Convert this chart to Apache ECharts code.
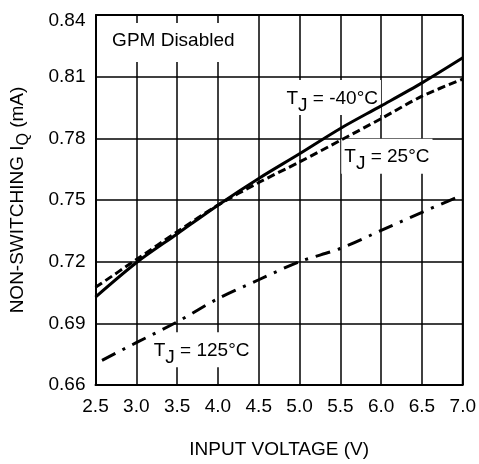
<!DOCTYPE html>
<html>
<head>
<meta charset="utf-8">
<script src="https://cdn.jsdelivr.net/npm/echarts@6/dist/echarts.min.js"></script>
<style>html,body{margin:0;padding:0;background:#fff}#c{width:479px;height:464px}</style>
</head>
<body>
<div id="c"></div>
<script>
const xTicks = [2.5, 3.0, 3.5, 4.0, 4.5, 5.0, 5.5, 6.0, 6.5, 7.0];
const yTicks = [0.66, 0.69, 0.72, 0.75, 0.78, 0.81, 0.84];
const vin = [2.5, 3.0, 3.5, 4.0, 4.5, 5.0, 5.5, 6.0, 6.5, 7.0];
const tjMinus40 = [0.7028, 0.7195, 0.7335, 0.7475, 0.7605, 0.7725, 0.7848, 0.7958, 0.8070, 0.8192];
const tj25 = [0.7075, 0.7210, 0.7345, 0.7475, 0.7585, 0.7685, 0.7790, 0.7896, 0.8005, 0.8088];
const vin125 = [2.58, 3.0, 3.5, 4.0, 4.5, 5.0, 5.5, 6.0, 6.5, 7.0];
const tj125 = [0.6720, 0.6806, 0.6907, 0.7020, 0.7112, 0.7200, 0.7264, 0.7352, 0.7440, 0.7525];
const labels = [
  {name: 'GPM Disabled', x: 3.454, y: 0.8266, rich: false},
  {name: '-40°C', x: 5.40, y: 0.7999, rich: true},
  {name: '25°C', x: 6.07, y: 0.7713, rich: true},
  {name: '125°C', x: 3.80, y: 0.6772, rich: true}
];

const font = 'Liberation Sans, Arial, sans-serif';
const FS = 19;
const chart = echarts.init(document.getElementById('c'));
const pair = (xs, ys) => xs.map((x, i) => [x, ys[i]]);

chart.setOption({
  animation: false,
  backgroundColor: '#fff',
  grid: {left: 90, top: 15, right: 14, bottom: 74, show: false},
  xAxis: {
    type: 'value', min: 2.5, max: 7.0, interval: 0.5,
    name: 'INPUT VOLTAGE (V)', nameLocation: 'middle', nameGap: 55,
    nameTextStyle: {fontFamily: font, fontSize: FS, color: '#000'},
    axisLine: {show: true, onZero: false, lineStyle: {color: '#000', width: 2}},
    axisTick: {show: false},
    axisLabel: {fontFamily: font, fontSize: FS, color: '#000', margin: 12,
      formatter: v => v.toFixed(1)},
    splitLine: {show: true, lineStyle: {color: '#000', width: 1.5}}
  },
  yAxis: {
    type: 'value', min: 0.66, max: 0.84, interval: 0.03,
    name: 'NON-SWITCHING I{sub|Q} (mA)', nameLocation: 'middle', nameGap: 64, nameRotate: 90,
    nameTextStyle: {fontFamily: font, fontSize: FS, color: '#000',
      rich: {sub: {fontFamily: font, fontSize: 16, color: '#000', padding: [12, 0, 0, 0]}}},
    axisLine: {show: true, lineStyle: {color: '#000', width: 2}},
    axisTick: {show: false},
    axisLabel: {fontFamily: font, fontSize: FS, color: '#000', margin: 10,
      formatter: v => (Math.abs(v - 0.84) < 1e-9 ? '{top|' + v.toFixed(2) + '}' : v.toFixed(2)),
      rich: {top: {fontFamily: font, fontSize: FS, color: '#000', padding: [12, 0, 0, 0]}}},
    splitLine: {show: true, lineStyle: {color: '#000', width: 1.5}}
  },
  series: [
    {type: 'line', name: '-40', data: pair(vin, tjMinus40), symbol: 'none', smooth: 0.3,
      lineStyle: {color: '#000', width: 3}, z: 6},
    {type: 'line', name: '25', data: pair(vin, tj25), symbol: 'none', smooth: 0.3,
      lineStyle: {color: '#000', width: 3, type: [8, 4]}, z: 5},
    {type: 'line', name: '125', data: pair(vin125, tj125), symbol: 'none', smooth: 0.3,
      lineStyle: {color: '#000', width: 3, type: [15, 8, 3, 8]}, z: 5},
    {type: 'line', data: [[7.0, 0.84], [7.0, 0.66]], symbol: 'none', silent: true,
      lineStyle: {color: '#000', width: 2}, z: 7},
    {type: 'line', data: [[2.5, 0.84], [7.0, 0.84]], symbol: 'none', silent: true,
      lineStyle: {color: '#000', width: 2}, z: 7}
  ]
});

const g = labels.map(l => {
  const p = chart.convertToPixel({gridIndex: 0}, [l.x, l.y]);
  return {
    type: 'text', x: p[0], y: p[1], z: 1,
    style: {
      text: l.rich ? 'T{sub|J} = ' + l.name : l.name,
      fontFamily: font, fontSize: FS, fill: '#000',
      align: 'center', verticalAlign: 'middle',
      backgroundColor: '#fff', padding: l.rich ? [2, 3, 0, 3] : [8, 5, 12, 5],
      rich: {sub: {fontFamily: font, fontSize: FS, fill: '#000', padding: [14, 0, 0, 0]}}
    }
  };
});
chart.setOption({graphic: {elements: g, z: 1}});
</script>
</body>
</html>
